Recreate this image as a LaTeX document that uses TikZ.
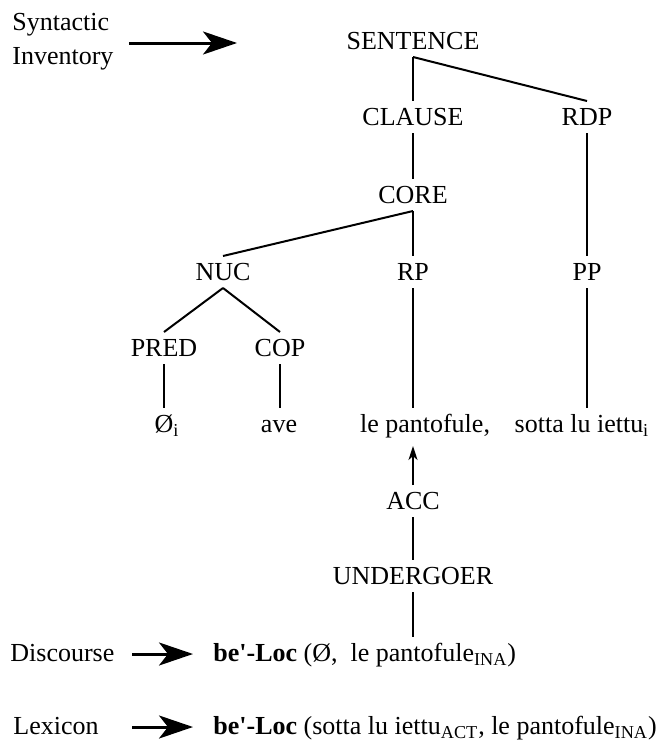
\documentclass[tikz,border=0pt]{standalone}
\usepackage{fontspec}
\setmainfont{Liberation Serif}[Ligatures=TeXOff]
\usetikzlibrary{arrows.meta}

\tikzset{
	cat/.style={inner sep=3.5pt, text height=8.6pt, text depth=0pt},
	branch/.style={line width=1pt},
	bigarrow/.style={line width=1.5pt, -{Stealth[length=17pt, width=11.5pt, inset=4.5pt]}},
	smallarrow/.style={line width=1pt, -{Stealth[length=7pt, width=4.5pt, inset=2pt]}}
}

\begin{document}
\begin{tikzpicture}[x=0.5pt, y=-0.5pt, font=\fontsize{13}{17}\selectfont]
			%%%%% START %%%%%
			\useasboundingbox (0, 0) rectangle (664, 744);
			
			% left labels
			\node[anchor=north west, inner sep=0pt, align=left] (syninv) at (12, 13) {Syntactic\\Inventory};
			\coordinate (treetip) at (237, 43);
			\draw[bigarrow, shorten <=7.5pt] (syninv.east |- treetip) -- (treetip);
			
			% tree
			\node[cat] (sentence) at (413, 41) {SENTENCE};
			\node[cat] (clause) at (413, 117) {CLAUSE};
			\node[cat] (rdp) at (587, 117) {RDP};
			\node[cat] (core) at (413, 195) {CORE};
			\node[cat] (nuc) at (223, 272) {NUC};
			\node[cat] (rp) at (413, 272) {RP};
			\node[cat] (pp) at (587, 272) {PP};
			\node[cat] (pred) at (164, 348) {PRED};
			\node[cat] (cop) at (280, 348) {COP};
			\node[cat] (zero) at (167, 424) {Ø\textsubscript{i}};
			\node[cat] (ave) at (279, 424) {ave};
			\node[cat] (pantofule) at (425, 424) {le pantofule,};
			\node[cat] (iettu) at (582, 424) {sotta lu iettu\textsubscript{i}};
			\node[cat] (acc) at (413, 501) {ACC};
			\node[cat] (undergoer) at (413, 576) {UNDERGOER};
			
			\draw[branch] (sentence.south) -- (clause.north);
			\draw[branch] (sentence.south) -- (rdp.north);
			\draw[branch] (clause.south) -- (core.north);
			\draw[branch] (rdp.south) -- (pp.north);
			\draw[branch] (core.south) -- (nuc.north);
			\draw[branch] (core.south) -- (rp.north);
			\draw[branch] (nuc.south) -- (pred.north);
			\draw[branch] (nuc.south) -- (cop.north);
			\draw[branch] (pred.south) -- (pred.south |- zero.north);
			\draw[branch] (cop.south) -- (cop.south |- ave.north);
			\draw[branch] (rp.south) -- (rp.south |- pantofule.north);
			\draw[branch] (pp.south) -- (pp.south |- iettu.north);
			
			\draw[smallarrow, shorten >=3pt] (acc.north) -- (acc.north |- pantofule.south);
			\draw[branch] (acc.south) -- (undergoer.north);
			
			% bottom rows
			\node[cat, anchor=west] (discourse) at (3, 653) {Discourse};
			\node[cat, anchor=west] (dform) at (206, 653) {\textbf{be'-Loc} (Ø, \ le pantofule\textsubscript{INA})};
			\node[cat, anchor=west] (lexicon) at (6, 726) {Lexicon};
			\node[cat, anchor=west] (lform) at (206, 726) {\textbf{be'-Loc} (sotta lu iettu\textsubscript{ACT}, le pantofule\textsubscript{INA})};
			
			\draw[branch] (undergoer.south) -- (undergoer.south |- dform.north);
			
			\coordinate (dtail) at (132, 654);
			\coordinate (ltail) at (132, 727);
			\draw[bigarrow, shorten >=6.5pt] (dtail) -- (dform.west |- dtail);
			\draw[bigarrow, shorten >=6.5pt] (ltail) -- (lform.west |- ltail);
			
			%%%%% END %%%%%
\end{tikzpicture}
\end{document}
